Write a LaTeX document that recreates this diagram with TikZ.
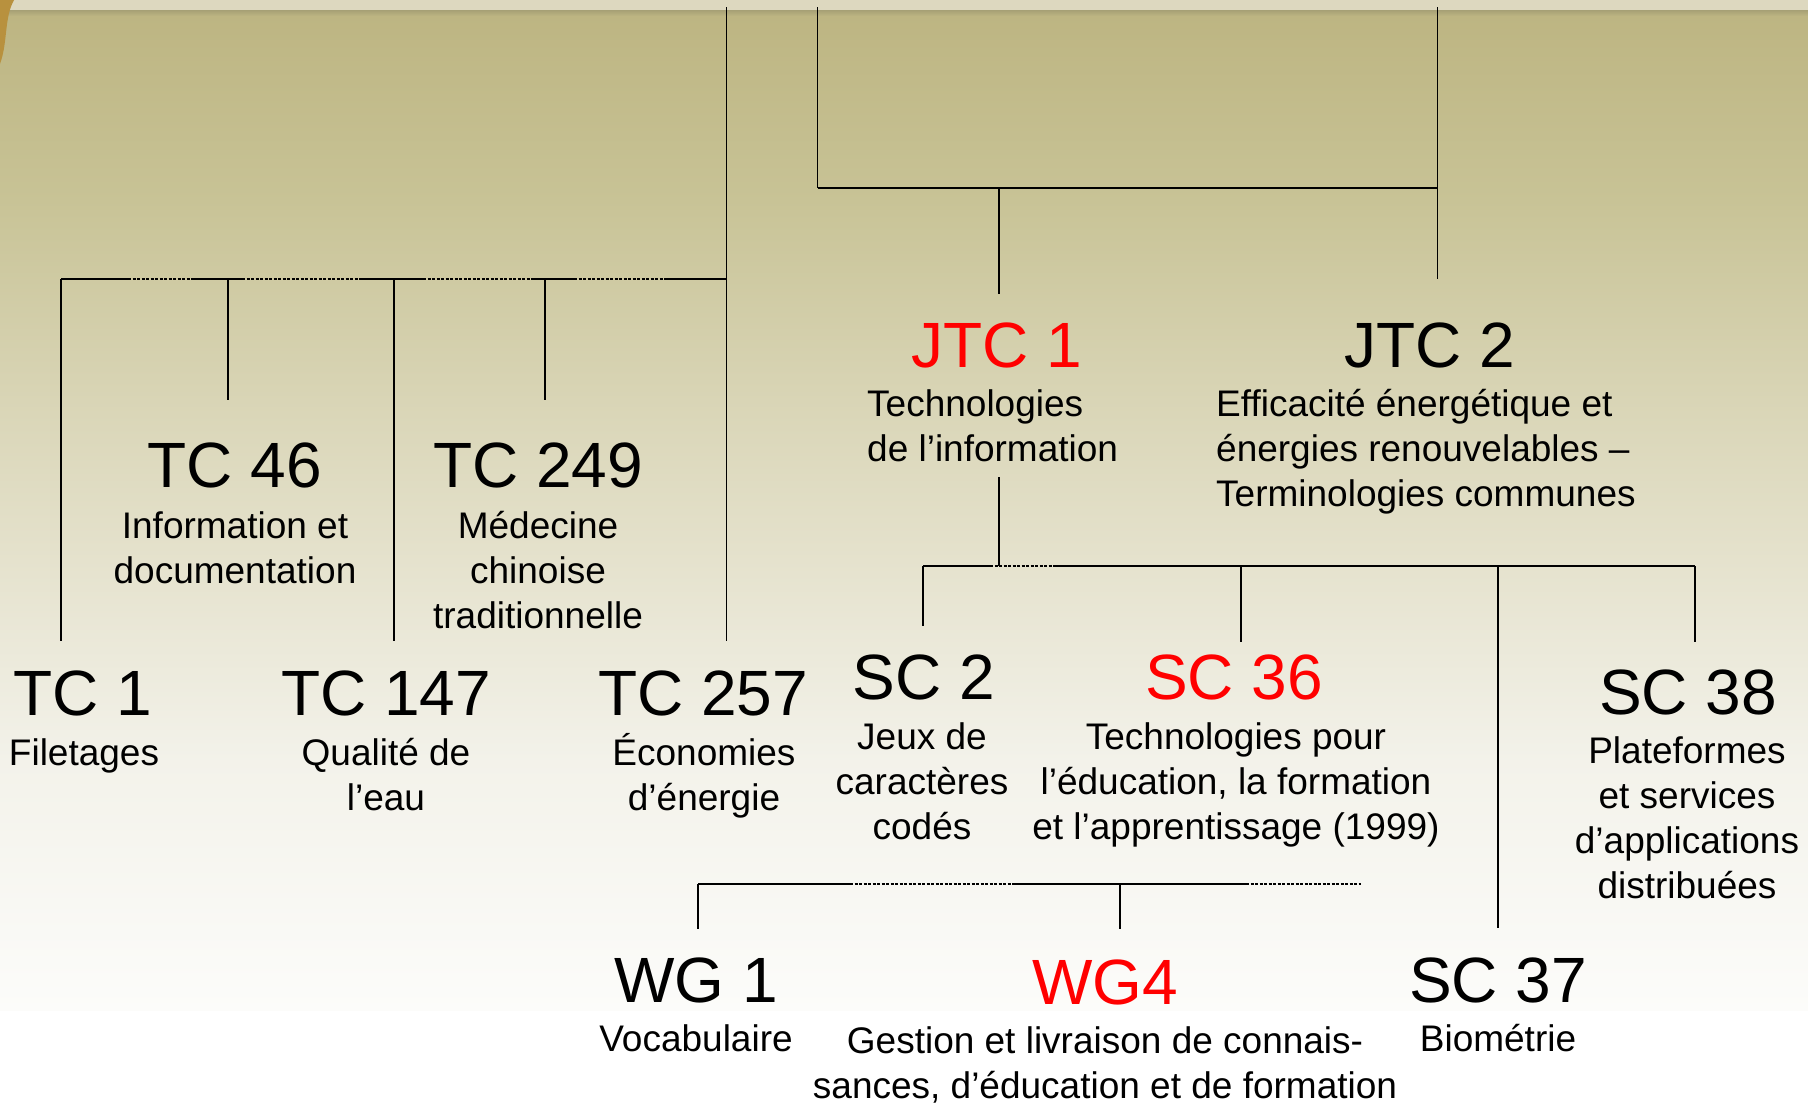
\documentclass[tikz,border=0pt]{standalone}
\usepackage{fontspec}
\setmainfont{Liberation Sans}

\definecolor{strip}{HTML}{DDD8BF}
\definecolor{stripdark}{HTML}{A6A075}
\definecolor{bgA}{HTML}{BDB582}
\definecolor{bgB}{HTML}{C8C396}
\definecolor{bgC}{HTML}{D9D5B6}
\definecolor{bgD}{HTML}{E5E2CD}
\definecolor{bgE}{HTML}{F3F2EA}
\definecolor{bgF}{HTML}{FCFCFA}
\definecolor{gold}{HTML}{B8913E}
\definecolor{isored}{HTML}{FF0000}

\begin{document}
\begin{tikzpicture}[x=1pt,y=-1pt,
  head/.style={anchor=base,inner sep=0pt,font=\fontsize{64}{70}\selectfont},
  desc/.style={anchor=base,inner sep=0pt,align=center,font=\fontsize{37}{45}\selectfont},
  link/.style={line width=1.5pt},
  bar/.style={line width=2pt},
  gap/.style={line width=1.6pt,dash pattern=on 3pt off 1.5pt}]

% background
\useasboundingbox (0,0) rectangle (1808,1106);
\fill[white] (0,0) rectangle (1808,1106);
\shade[top color=bgA,bottom color=bgB] (0,14) rectangle (1808,201);
\shade[top color=bgB,bottom color=bgC] (0,200) rectangle (1808,401);
\shade[top color=bgC,bottom color=bgD] (0,400) rectangle (1808,561);
\shade[top color=bgD,bottom color=bgE] (0,560) rectangle (1808,761);
\shade[top color=bgE,bottom color=bgF] (0,760) rectangle (1808,1010);
\fill[strip] (0,0) rectangle (1808,10);
\shade[top color=stripdark,bottom color=bgA] (0,10) rectangle (1808,16);
\fill[gold] (0,0) -- (14,0) .. controls (4,18) and (8,42) .. (0,64) -- cycle;

% committees (desc nodes sit on the baseline of their last line)
\node[head] (tc1) at (83,715) {TC 1};
\node[desc] (tc1d) at (84,765) {Filetages};
\node[head] (tc46) at (235,487) {TC 46};
\node[desc] (tc46d) at (235,583) {Information et\\documentation};
\node[head] (tc147) at (386,715) {TC 147};
\node[desc] (tc147d) at (386,810) {Qualité de\\l’eau};
\node[head] (tc249) at (538,487) {TC 249};
\node[desc] (tc249d) at (538,628) {Médecine\\chinoise\\traditionnelle};
\node[head] (tc257) at (703,715) {TC 257};
\node[desc] (tc257d) at (704,810) {Économies\\d’énergie};

\node[head,text=isored] (jtc1) at (997,367) {JTC 1};
\node[desc,anchor=base west,align=left] (jtc1d) at (867,461) {Technologies\\de l’information};
\node[head] (jtc2) at (1430,367) {JTC 2};
\node[desc,anchor=base west,align=left] (jtc2d) at (1216,506) {Efficacité énergétique et\\énergies renouvelables –\\Terminologies communes};

\node[head] (sc2) at (924,699) {SC 2};
\node[desc] (sc2d) at (922,839) {Jeux de\\caractères\\codés};
\node[head,text=isored] (sc36) at (1234,699) {SC 36};
\node[desc] (sc36d) at (1236,839) {Technologies pour\\l’éducation, la formation\\et l’apprentissage (1999)};
\node[head] (sc38) at (1688,714) {SC 38};
\node[desc] (sc38d) at (1687,898) {Plateformes\\et services\\d’applications\\distribuées};

\node[head] (wg1) at (696,1002) {WG 1};
\node[desc] (wg1d) at (696,1051) {Vocabulaire};
\node[head,text=isored] (wg4) at (1105,1004) {WG4};
\node[desc] (wg4d) at (1105,1098) {Gestion et livraison de connais-\\sances, d’éducation et de formation};
\node[head] (sc37) at (1498,1002) {SC 37};
\node[desc] (sc37d) at (1498,1051) {Biométrie};

% top connectors
\coordinate (t1) at (726.5,7);
\coordinate (t2) at (817.5,7);
\coordinate (t3) at (1437.5,7);
\coordinate (j0) at (817.5,188);
\coordinate (j1) at (999,188);
\coordinate (j2) at (1437.5,188);
\coordinate (jtc1z) at (999,294);
\coordinate (jtc2z) at (1437.5,279);
\path[link] (t2) edge (j0);
\path[link] (t3) edge (jtc2z);
\path[bar] (j0) edge (j2);
\path[link] (j1) edge (jtc1z);

% left bar
\foreach \n/\x in {0/61,1/128,2/194,3/242,4/362,5/423,6/531,7/574,8/666,9/726.5}
  \coordinate (L\n) at (\x,279);
\foreach \a/\b in {0/1,2/3,4/5,6/7,8/9}
  \path[bar] (L\a) edge (L\b);
\foreach \a/\b in {1/2,3/4,5/6,7/8}
  \path[gap] (L\a) edge (L\b);
\coordinate (tc1z) at (61,641);
\coordinate (tc46a) at (228,279);
\coordinate (tc46z) at (228,400);
\coordinate (tc147a) at (394,279);
\coordinate (tc147z) at (394,641);
\coordinate (tc249a) at (545,279);
\coordinate (tc249z) at (545,400);
\coordinate (tc257z) at (726.5,641);
\path[link] (L0) edge (tc1z);
\path[link] (tc46a) edge (tc46z);
\path[link] (tc147a) edge (tc147z);
\path[link] (tc249a) edge (tc249z);
\path[link] (t1) edge (tc257z);

% JTC 1 subcommittees
\coordinate (jtc1a) at (999,477);
\foreach \n/\x in {0/923,1/990,2/1055,3/1695}
  \coordinate (M\n) at (\x,566);
\path[link] (jtc1a) edge (999,566);
\path[bar] (M0) edge (M1);
\path[gap] (M1) edge (M2);
\path[bar] (M2) edge (M3);
\coordinate (sc2z) at (923,626);
\coordinate (sc36a) at (1241,566);
\coordinate (sc36z) at (1241,642);
\coordinate (sc37a) at (1498,566);
\coordinate (sc37z) at (1498,928);
\coordinate (sc38z) at (1695,642);
\path[link] (M0) edge (sc2z);
\path[link] (sc36a) edge (sc36z);
\path[link] (sc37a) edge (sc37z);
\path[link] (M3) edge (sc38z);

% SC 36 working groups
\foreach \n/\x in {0/698,1/850,2/1013,3/1246,4/1361}
  \coordinate (W\n) at (\x,884);
\path[bar] (W0) edge (W1);
\path[gap] (W1) edge (W2);
\path[bar] (W2) edge (W3);
\path[gap] (W3) edge (W4);
\coordinate (wg1z) at (698,929);
\coordinate (wg4a) at (1120,884);
\coordinate (wg4z) at (1120,929);
\path[link] (W0) edge (wg1z);
\path[link] (wg4a) edge (wg4z);
\end{tikzpicture}
\end{document}
